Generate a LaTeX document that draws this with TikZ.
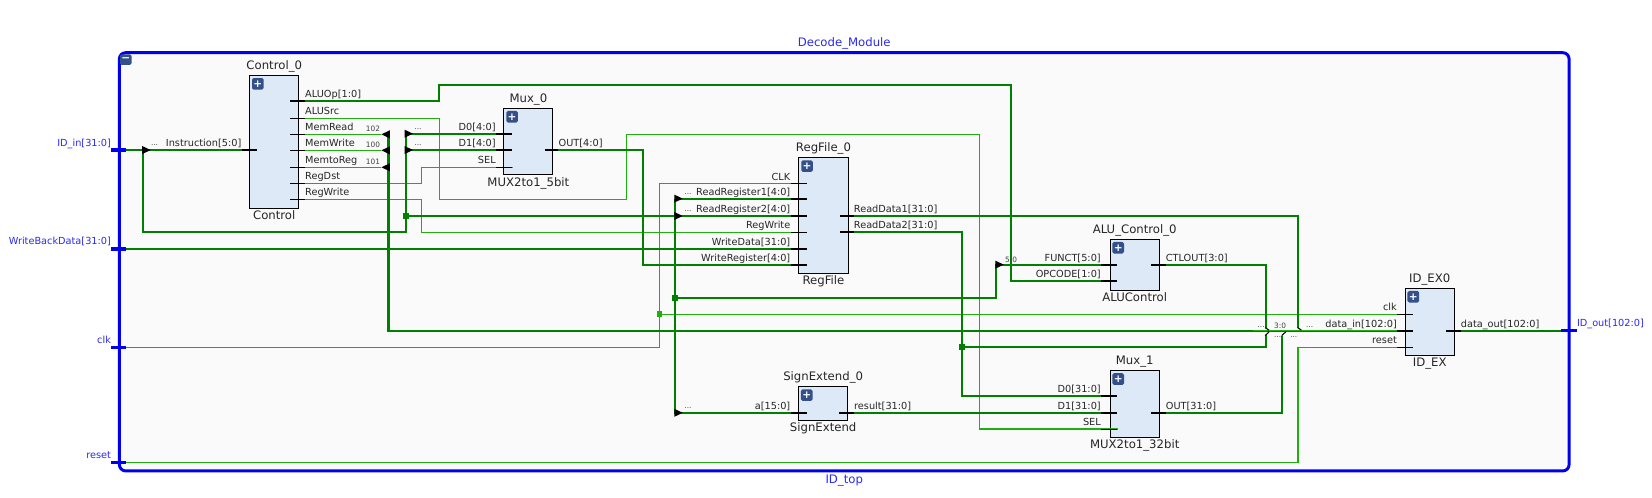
\documentclass[tikz,border=0pt]{standalone}
\usepackage{fontspec}
\setmainfont{DejaVu Sans}
\usepackage{tikz}
\usetikzlibrary{positioning}
\definecolor{wireThick}{HTML}{008000}
\definecolor{wireThin}{HTML}{1FB00F}
\definecolor{portBlue}{HTML}{0000EE}
\definecolor{labelBlue}{HTML}{2A2AF0}
\definecolor{blockFill}{HTML}{DEE9F7}
\definecolor{iconFill}{HTML}{34508A}
\tikzset{
    block/.style = {rectangle, draw=black, fill=blockFill, line width=0.9pt, inner sep=0pt},
    blocktitle/.style = {font=\fontsize{11.1}{12}\selectfont, inner sep=0pt, text height=8.5pt, text depth=2.5pt, text=black!85},
    plusicon/.style = {rectangle, fill=iconFill, rounded corners=1.5pt, minimum size=11pt, inner sep=0pt, text=white, font=\fontsize{10}{10}\selectfont\bfseries},
    lpin/.style = {anchor=south east, inner xsep=0pt, inner ysep=1pt, text height=7pt, text depth=2pt, text=black!85, font=\fontsize{9.25}{10}\selectfont},
    rpin/.style = {lpin, anchor=south west},
    lport/.style = {lpin, inner ysep=1.6pt, text=labelBlue},
    rport/.style = {rpin, inner ysep=1.6pt, text=labelBlue},
    tiny/.style = {inner sep=0pt, text=black!75, font=\fontsize{7}{8}\selectfont},
    thickwire/.style = {draw=wireThick, line width=2pt},
    thinwire/.style = {draw=wireThin, line width=1pt},
    stubthick/.style = {draw=black, line width=1.8pt},
    stubthin/.style = {draw=black, line width=0.9pt},
    portstub/.style = {draw=portBlue, line width=3pt},
    tick/.style = {draw=black, line width=1pt},
    junction/.style = {rectangle, fill=#1, minimum size=5.5pt, inner sep=0pt},
    ripR/.pic = {\fill[black] (0,-3.8) -- (8,0) -- (0,3.8) -- cycle;},
    ripL/.pic = {\fill[black] (0,-3.8) -- (-8,0) -- (0,3.8) -- cycle;}
}

\begin{document}
\begin{tikzpicture}[x=1pt,y=-1pt]
    \useasboundingbox (0,0) rectangle (1568,471.8);
    % Outer module frame
    \node[rectangle, draw=portBlue, fill=black!2, line width=2.8pt, rounded corners=6pt, minimum width=1376pt, minimum height=397pt, inner sep=0pt] (decodeFrame) at (801.3,248.5) {};
    \node[blocktitle, text=labelBlue] [above=1.5pt of decodeFrame] {Decode\_Module};
    \node[blocktitle, text=labelBlue] [below=1.5pt of decodeFrame] {ID\_top};
    \node[plusicon, minimum height=10pt] (frameIcon) [below right=2.8pt and 1.8pt of decodeFrame.north west] {−};

    % The blocks
    \node[block, minimum width=46.7pt, minimum height=126.2pt] (controlBox) at (260.3,134.6) {};
    \node[block, minimum width=46.4pt, minimum height=63.2pt] (muxZeroBox) at (501.5,134.4) {};
    \node[block, minimum width=46.7pt, minimum height=109.8pt] (regFileBox) at (781.6,204.5) {};
    \node[block, minimum width=46.8pt, minimum height=48.4pt] (aluCtlBox) at (1077,251.3) {};
    \node[block, minimum width=46.6pt, minimum height=31.9pt] (signExtBox) at (781.3,383) {};
    \node[block, minimum width=46.8pt, minimum height=63.4pt] (muxOneBox) at (1077,383.4) {};
    \node[block, minimum width=46.7pt, minimum height=63.6pt] (idExBox) at (1357,305.4) {};

    % Block names
    \node[blocktitle] [above=2.5pt of controlBox] {Control\_0};
    \node[blocktitle] [below=1.5pt of controlBox] {Control};
    \node[blocktitle] [above=2.5pt of muxZeroBox] {Mux\_0};
    \node[blocktitle] [below=1.5pt of muxZeroBox] {MUX2to1\_5bit};
    \node[blocktitle] [above=2.5pt of regFileBox] {RegFile\_0};
    \node[blocktitle] [below=1.5pt of regFileBox] {RegFile};
    \node[blocktitle] [above=2.5pt of aluCtlBox] {ALU\_Control\_0};
    \node[blocktitle] [below=1.5pt of aluCtlBox] {ALUControl};
    \node[blocktitle] [above=2.5pt of signExtBox] {SignExtend\_0};
    \node[blocktitle] [below=1.5pt of signExtBox] {SignExtend};
    \node[blocktitle] [above=2.5pt of muxOneBox] {Mux\_1};
    \node[blocktitle] [below=1.5pt of muxOneBox] {MUX2to1\_32bit};
    \node[blocktitle] [above=2.5pt of idExBox] {ID\_EX0};
    \node[blocktitle] [below=1.5pt of idExBox] {ID\_EX};

    % Expand icons
    \node[plusicon] [below right=2.8pt and 2.5pt of controlBox.north west] {+};
    \node[plusicon] [below right=2.8pt and 2.5pt of muxZeroBox.north west] {+};
    \node[plusicon] [below right=2.8pt and 2.5pt of regFileBox.north west] {+};
    \node[plusicon] [below right=2.8pt and 2.5pt of aluCtlBox.north west] {+};
    \node[plusicon] [below right=2.8pt and 2.5pt of signExtBox.north west] {+};
    \node[plusicon] [below right=2.8pt and 2.5pt of muxOneBox.north west] {+};
    \node[plusicon] [below right=2.8pt and 2.5pt of idExBox.north west] {+};

    % Ports of the module
    \node[lport] (idIn) at (105.5,142.4) {ID\_in[31:0]};
    \node[lport] (writeBack) at (105.5,236.3) {WriteBackData[31:0]};
    \node[lport] (clkIn) at (105.5,329.6) {clk};
    \node[lport] (resetIn) at (105.5,438.7) {reset};
    \node[rport] (idOut) at (1496.6,313.8) {ID\_out[102:0]};

    % Pins of Control
    \node[lpin] (ctlInstr) at (229.3,142.4) {Instruction[5:0]};
    \node[rpin] (ctlALUOp) at (289.5,95.6) {ALUOp[1:0]};
    \node[rpin] (ctlALUSrc) at (289.5,112.3) {ALUSrc};
    \node[rpin] (ctlMemRead) at (289.5,127.5) {MemRead};
    \node[rpin] (ctlMemWrite) at (289.5,142.7) {MemWrite};
    \node[rpin] (ctlMemtoReg) at (289.5,158.8) {MemtoReg};
    \node[rpin] (ctlRegDst) at (289.5,174) {RegDst};
    \node[rpin] (ctlRegWrite) at (289.5,189.2) {RegWrite};
    % Pins of Mux_0
    \node[lpin] (muxZeroDa) at (470.7,126.9) {D0[4:0]};
    \node[lpin] (muxZeroDb) at (470.7,142.4) {D1[4:0]};
    \node[lpin] (muxZeroSel) at (470.7,158.8) {SEL};
    \node[rpin] (muxZeroOut) at (530,142.3) {OUT[4:0]};
    % Pins of RegFile
    \node[lpin] (regClk) at (750.3,174.3) {CLK};
    \node[lpin] (regReadA) at (750.3,188.5) {ReadRegister1[4:0]};
    \node[lpin] (regReadB) at (750.3,205) {ReadRegister2[4:0]};
    \node[lpin] (regWrite) at (750.3,220.5) {RegWrite};
    \node[lpin] (regData) at (750.3,236.3) {WriteData[31:0]};
    \node[lpin] (regAddr) at (750.3,251.5) {WriteRegister[4:0]};
    \node[rpin] (regOutA) at (810.3,205) {ReadData1[31:0]};
    \node[rpin] (regOutB) at (810.3,220.1) {ReadData2[31:0]};
    % Pins of ALUControl
    \node[lpin] (aluFunct) at (1045,251.2) {FUNCT[5:0]};
    \node[lpin] (aluOpcode) at (1045,266.7) {OPCODE[1:0]};
    \node[rpin] (aluOut) at (1106.4,251.2) {CTLOUT[3:0]};
    % Pins of SignExtend
    \node[lpin] (signIn) at (750.3,391.8) {a[15:0]};
    \node[rpin] (signOut) at (810.5,391.8) {result[31:0]};
    % Pins of Mux_1
    \node[lpin] (muxOneDa) at (1045,375.6) {D0[31:0]};
    \node[lpin] (muxOneDb) at (1045,391.8) {D1[31:0]};
    \node[lpin] (muxOneSel) at (1045,407.2) {SEL};
    \node[rpin] (muxOneOut) at (1106.4,391.8) {OUT[31:0]};
    % Pins of ID_EX
    \node[lpin] (exClk) at (1326,298.3) {clk};
    \node[lpin] (exData) at (1326,313.8) {data\_in[102:0]};
    \node[lpin] (exReset) at (1326,329.6) {reset};
    \node[rpin] (exOut) at (1386.4,313.8) {data\_out[102:0]};

    % Junctions
    \coordinate (instrJoin) at (385,205);
    \coordinate (signJoin) at (640.7,282.8);
    \coordinate (clkJoin) at (626,298.3);
    \coordinate (dataJoin) at (913.4,329.3);
    % Where wires enter the output bus
    \coordinate (busStart) at (1189,313.8);

    % Single bit wires
    \draw[thinwire] (ctlALUSrc.south west) -- (416.7,112.3) |- (594.7,189.2) |- (930,127.5) |- (muxOneSel.south east) -- ++(16,0);
    \draw[thinwire] (ctlMemRead.south west) -- (362,127.5);
    \draw[thinwire] (ctlMemWrite.south west) -- (362,142.7);
    \draw[thinwire] (ctlMemtoReg.south west) -- (362,158.8);
    \draw[thinwire] (ctlRegDst.south west) -- (400.3,174) |- (muxZeroSel.south east) -- ++(16,0);
    \draw[thinwire] (ctlRegWrite.south west) -- (400.3,189.2) |- (regWrite.south east);
    \draw[thinwire] (clkIn.south east) -| (regClk.south east -| clkJoin) -- (regClk.south east);
    \draw[thinwire] (clkJoin) -- (exClk.south east);
    \draw[thinwire] (resetIn.south east) -| (1232,329.6) -- (exReset.south east);

    % Bus wires
    \draw[thickwire] (idIn.south east) -- (ctlInstr.south east);
    \draw[thickwire] (136,142.4) |- (385,219.9) -- (385,127);
    \draw[thickwire] (385,126.9) -- (muxZeroDa.south east);
    \draw[thickwire] (385,142.4) -- (muxZeroDb.south east);
    \draw[thickwire] (instrJoin) -- (regReadB.south east);
    \draw[thickwire] (640.7,188.5) -- (regReadA.south east);
    \draw[thickwire] (640.7,188.5) |- (signIn.south east);
    \draw[thickwire] (signJoin) -- (945.3,282.8) |- (aluFunct.south east);
    \draw[thickwire] (ctlALUOp.south west) -- (416.7,95.6) |- (959.6,80.7) |- (aluOpcode.south east);
    \draw[thickwire] (muxZeroOut.south west) -- (610.3,142.3) |- (regAddr.south east);
    \draw[thickwire] (writeBack.south east) -- (regData.south east);
    \draw[thickwire] (regOutA.south west) -- (1231.7,205) -- (1231.7,311);
    \draw[thickwire] (regOutB.south west) -- (913.4,220.1) |- (muxOneDa.south east);
    \draw[thickwire] (signOut.south west) -- (muxOneDb.south east);
    \draw[thickwire] (muxOneOut.south west) -- (1216.6,391.8) -- (1216.6,318.5);
    \draw[thickwire] (aluOut.south west) -- (1201.3,251.2) -- (1201.3,311);
    \draw[thickwire] (1201.3,318) -- (1201.3,329.3) -- (dataJoin);
    \draw[thickwire] (368.7,127) |- (busStart);
    \draw[thickwire] (busStart) -- (exData.south east);
    \draw[thickwire] (exOut.south west) -- (idOut.south west);
    \draw[wireThin, line width=1pt] (busStart) -- (exData.south east);

    % Junction dots
    \node[junction=wireThick] (instrDot) at (instrJoin) {};
    \node[junction=wireThick] (signDot) at (signJoin) {};
    \node[junction=wireThin] (clkDot) at (clkJoin) {};
    \node[junction=wireThick] (dataDot) at (dataJoin) {};

    % Pin stubs
    \draw[stubthick] (ctlInstr.south east) -- ++(15,0);
    \draw[stubthick] (ctlALUOp.south west) -- ++(-14,0);
    \draw[stubthin] (ctlALUSrc.south west) -- ++(-14,0);
    \draw[stubthin] (ctlMemRead.south west) -- ++(-14,0);
    \draw[stubthin] (ctlMemWrite.south west) -- ++(-14,0);
    \draw[stubthin] (ctlMemtoReg.south west) -- ++(-14,0);
    \draw[stubthin] (ctlRegDst.south west) -- ++(-14,0);
    \draw[stubthin] (ctlRegWrite.south west) -- ++(-14,0);
    \draw[stubthick] (muxZeroDa.south east) -- ++(15,0);
    \draw[stubthick] (muxZeroDb.south east) -- ++(15,0);
    \draw[stubthin] (muxZeroSel.south east) -- ++(15,0);
    \draw[stubthick] (muxZeroOut.south west) -- ++(-13,0);
    \draw[stubthin] (regClk.south east) -- ++(16,0);
    \draw[stubthick] (regReadA.south east) -- ++(16,0);
    \draw[stubthick] (regReadB.south east) -- ++(16,0);
    \draw[stubthin] (regWrite.south east) -- ++(16,0);
    \draw[stubthick] (regData.south east) -- ++(16,0);
    \draw[stubthick] (regAddr.south east) -- ++(16,0);
    \draw[stubthick] (regOutA.south west) -- ++(-13,0);
    \draw[stubthick] (regOutB.south west) -- ++(-13,0);
    \draw[stubthick] (aluFunct.south east) -- ++(15.6,0);
    \draw[stubthick] (aluOpcode.south east) -- ++(15.6,0);
    \draw[stubthick] (aluOut.south west) -- ++(-14,0);
    \draw[stubthick] (signIn.south east) -- ++(16,0);
    \draw[stubthick] (signOut.south west) -- ++(-14,0);
    \draw[stubthick] (muxOneDa.south east) -- ++(15.6,0);
    \draw[stubthick] (muxOneDb.south east) -- ++(15.6,0);
    \draw[stubthin] (muxOneSel.south east) -- ++(15.6,0);
    \draw[stubthick] (muxOneOut.south west) -- ++(-14,0);
    \draw[stubthin] (exClk.south east) -- ++(15,0);
    \draw[stubthick] (exData.south east) -- ++(15,0);
    \draw[stubthin] (exReset.south east) -- ++(15,0);
    \draw[stubthick] (exOut.south west) -- ++(-14,0);
    % Port stubs on the frame
    \draw[portstub] (idIn.south east) -- ++(14,0);
    \draw[portstub] (writeBack.south east) -- ++(14,0);
    \draw[portstub] (clkIn.south east) -- ++(14,0);
    \draw[portstub] (resetIn.south east) -- ++(14,0);
    \draw[portstub] (idOut.south west) -- ++(-15,0);

    % Ripper tips
    \pic at (135,142.4) {ripR};
    \pic at (384,126.9) {ripR};
    \pic at (384,142.4) {ripR};
    \pic at (640,188.5) {ripR};
    \pic at (640,205) {ripR};
    \pic at (640,391.8) {ripR};
    \pic at (944.7,251.2) {ripR};
    \pic at (370,127.5) {ripL};
    \pic at (370,142.7) {ripL};
    \pic at (370,158.8) {ripL};
    \draw[tick] (1200.8,311) -- (1204.5,313.3);
    \draw[tick] (1200.8,318.5) -- (1204.5,315);
    \draw[tick] (1216.6,318.5) -- (1220.3,315);
    \draw[tick] (1231.7,311) -- (1235.2,313.3);

    % Ripper texts
    \node[tiny] (tapInstr) at (146.7,138) {...};
    \node[tiny] (tapDa) at (396.7,122.5) {...};
    \node[tiny] (tapDb) at (396.7,138) {...};
    \node[tiny] (tapReadA) at (653,184) {...};
    \node[tiny] (tapReadB) at (653,200.5) {...};
    \node[tiny] (tapSign) at (653,387.5) {...};
    \node[tiny] (tapFunct) at (959.6,246.8) {5:0};
    \node[tiny] (bitRead) at (354,122.5) {102};
    \node[tiny] (bitWrite) at (354,137.9) {100};
    \node[tiny] (bitMem) at (354,153.7) {101};
    \node[tiny] (busLow) at (1197,310.5) {...};
    \node[tiny] (busCtl) at (1215,309.4) {3:0};
    \node[tiny] (busMid) at (1212.6,320) {...};
    \node[tiny] (busRead) at (1228,320) {...};
    \node[tiny] (busHigh) at (1243,310.5) {...};
\end{tikzpicture}
\end{document}
